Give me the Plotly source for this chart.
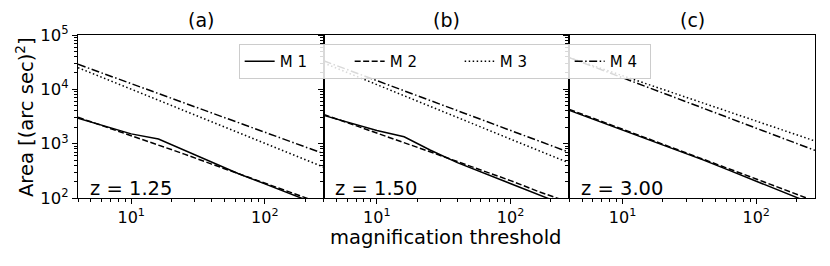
import plotly.graph_objects as go
import numpy as np

# ---------------- data ----------------
magnification = [4, 10, 16, 25, 40, 63, 100, 160, 275]

panel_titles = ["(a)", "(b)", "(c)"]
redshift_labels = ["z = 1.25", "z = 1.50", "z = 3.00"]
series_names = ["M 1", "M 2", "M 3", "M 4"]

# panel (a), z = 1.25
a_m1 = [2940, 1514, 1216, 752, 447, 283, 182, 116, 69]
a_m2 = [3055, 1422, 961, 643, 421, 281, 187, 124, 77]
a_m3 = [25060, 10070, 6300, 4036, 2529, 1610, 1014, 635, 371]
a_m4 = [28900, 12700, 8350, 5600, 3680, 2455, 1622, 1065, 656]

# panel (b), z = 1.50
b_m1 = [3320, 1746, 1343, 764, 447, 288, 184, 116, 69]
b_m2 = [3460, 1585, 1059, 708, 468, 313, 209, 133, 83]
b_m3 = [30600, 12200, 7620, 4865, 3040, 1928, 1213, 757, 440]
b_m4 = [33500, 14450, 9400, 6240, 4055, 2680, 1750, 1138, 693]

# panel (c), z = 3.00
c_m1 = [4095, 1795, 1178, 787, 504, 322, 204, 128, 75]
c_m2 = [4270, 1862, 1216, 809, 526, 345, 224, 145, 87]
c_m3 = [38300, 17800, 12000, 8280, 5600, 3830, 2600, 1760, 1120]
c_m4 = [38300, 16360, 10570, 6980, 4510, 2960, 1926, 1245, 753]

x_tickvals = [10, 100]
x_ticktext = ["10<sup>1</sup>", "10<sup>2</sup>"]
y_tickvals = [1e2, 1e3, 1e4, 1e5]
y_ticktext = ["10<sup>2</sup>", "10<sup>3</sup>", "10<sup>4</sup>", "10<sup>5</sup>"]

# ---------------- styling ----------------
FONT = "DejaVu Sans"
dashes = ["solid", "6px,2.5px", "1.5px,2.5px", "8px,2.5px,1.5px,2.5px"]
panels = [[a_m1, a_m2, a_m3, a_m4], [b_m1, b_m2, b_m3, b_m4], [c_m1, c_m2, c_m3, c_m4]]

x_minor = [m * 10 ** e for e in range(0, 3) for m in range(2, 10)]
y_minor = [m * 10 ** e for e in range(2, 5) for m in range(2, 10)]

fig = go.Figure()
domains = [[0, 1 / 3], [1 / 3, 2 / 3], [2 / 3, 1]]

for p, series in enumerate(panels):
    xa = "x" if p == 0 else f"x{p + 1}"
    ya = "y" if p == 0 else f"y{p + 1}"
    for s, vals in enumerate(series):
        fig.add_trace(go.Scatter(
            x=magnification, y=vals, mode="lines", name=series_names[s],
            xaxis=xa, yaxis=ya, showlegend=(p == 0),
            line=dict(color="black", width=1.5, dash=dashes[s]),
            legendwidth=(35 if s == 3 else None),
        ))
    axis_common = dict(showline=True, linecolor="black", linewidth=1, mirror=True,
                       showgrid=False, zeroline=False, ticks="outside",
                       tickcolor="black", ticklen=5, tickwidth=1, automargin=False)
    fig.update_layout(**{
        ("xaxis" if p == 0 else f"xaxis{p + 1}"): dict(
            type="log", range=[np.log10(4), 2.44], domain=domains[p],
            anchor=ya, tickmode="array", tickvals=x_tickvals, ticktext=x_ticktext,
            tickfont=dict(family=FONT, size=16, color="black"),
            minor=dict(ticks="outside", tickvals=x_minor, ticklen=3,
                       tickcolor="black", tickwidth=1),
            **axis_common),
        ("yaxis" if p == 0 else f"yaxis{p + 1}"): dict(
            type="log", range=[2, 5], domain=[0, 1], anchor=xa,
            tickmode="array", tickvals=y_tickvals, ticktext=y_ticktext,
            showticklabels=(p == 0),
            tickfont=dict(family=FONT, size=16.5, color="black"),
            minor=dict(ticks="outside", tickvals=y_minor, ticklen=3,
                       tickcolor="black", tickwidth=1),
            **axis_common),
    })
    fig.add_annotation(text=panel_titles[p], xref=f"{xa} domain", yref=f"{ya} domain",
                       x=0.5, y=1, yshift=15, xanchor="center", yanchor="middle",
                       showarrow=False, font=dict(family=FONT, size=19, color="black"))
    fig.add_annotation(text=redshift_labels[p], xref=f"{xa} domain", yref=f"{ya} domain",
                       x=0.04, y=0, yshift=-4, xanchor="left", yanchor="bottom",
                       showarrow=False, font=dict(family=FONT, size=19.5, color="black"))

fig.add_annotation(text="magnification threshold", xref="paper", yref="paper",
                   x=0.4993, y=-0.24, xanchor="center", yanchor="middle",
                   showarrow=False, font=dict(family=FONT, size=19.5, color="black"))
fig.add_annotation(text="Area [(arc sec)<sup>2</sup>]", xref="paper", yref="paper",
                   x=-0.0719, y=0.497, xanchor="center", yanchor="middle", textangle=-90,
                   showarrow=False, font=dict(family=FONT, size=19.5, color="black"))

fig.update_layout(
    width=830, height=266,
    margin=dict(l=78, r=15, t=35, b=68, autoexpand=False),
    paper_bgcolor="white", plot_bgcolor="white",
    font=dict(family=FONT, color="black"),
    showlegend=True,
    legend=dict(orientation="h", x=0.218, y=0.945, xanchor="left", yanchor="top",
                bgcolor="rgba(255,255,255,0.85)", bordercolor="#cccccc", borderwidth=1,
                font=dict(family=FONT, size=15, color="black"),
                entrywidth=65, entrywidthmode="pixels",
                tracegroupgap=0, itemwidth=30),
)

fig.write_html("out.html", config={"displayModeBar": False},
               post_script="document.body.style.margin='0';document.body.style.overflow='hidden';")
